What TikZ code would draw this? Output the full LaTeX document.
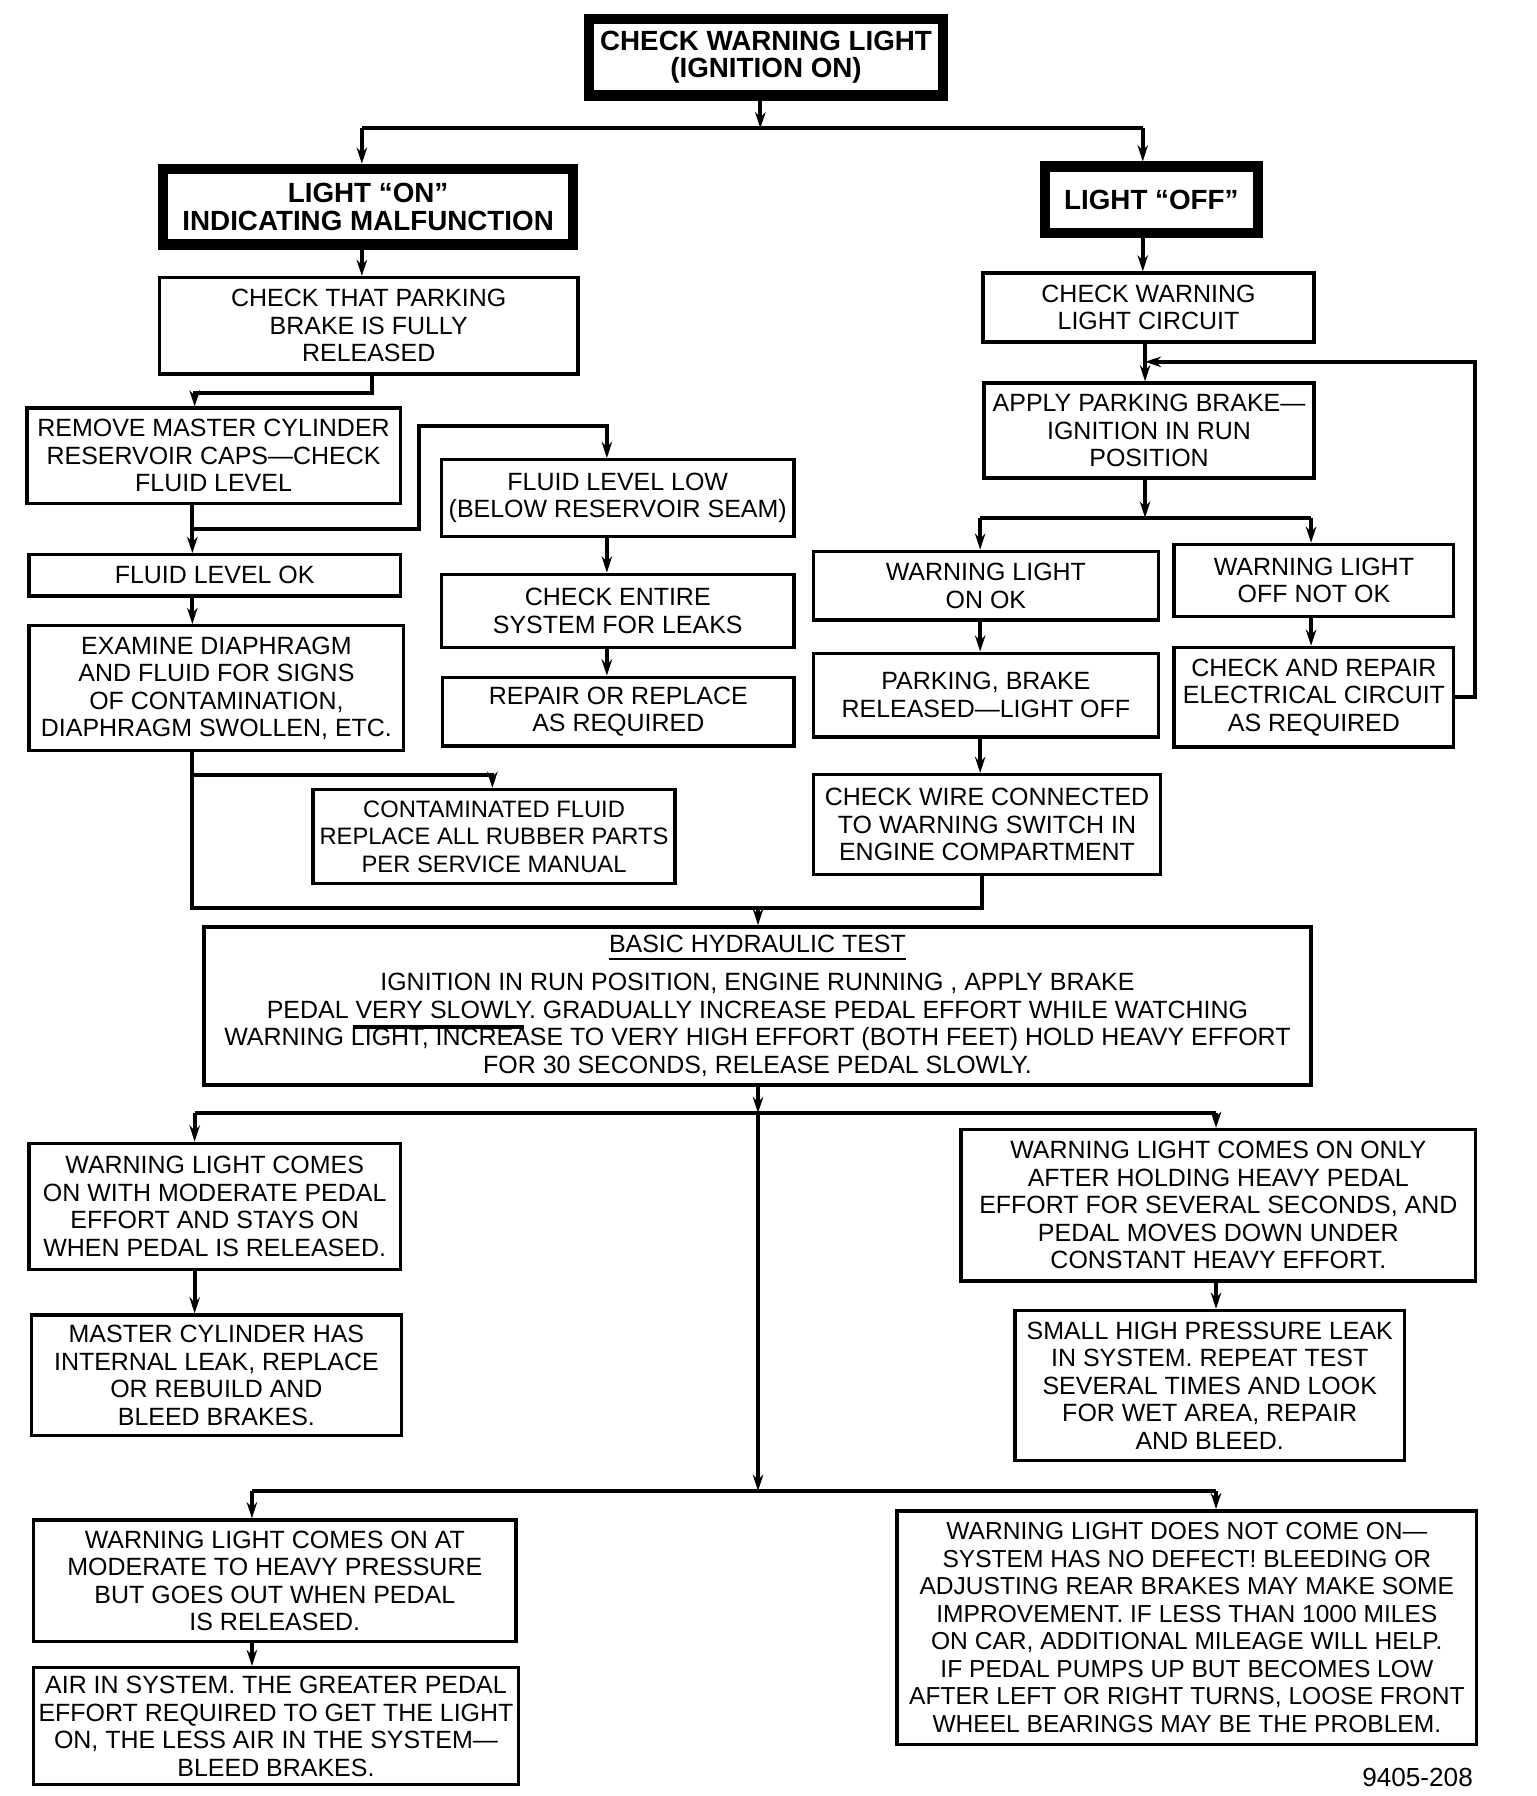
\documentclass[tikz,border=0pt]{standalone}
\usepackage{fontspec}
\setmainfont{Liberation Sans}
\usetikzlibrary{arrows.meta}
\newcommand{\flowfont}{\fontsize{6.2}{6.83}\selectfont}
\newcommand{\headfont}{\fontsize{6.9}{6.83}\selectfont\bfseries}
\begin{document}
\begin{tikzpicture}[x=0.01cm,y=-0.01cm]
  \tikzstyle{box} = [draw=black, line width=0.85pt, inner sep=0pt, align=center, font=\flowfont]
  \tikzstyle{hbox} = [draw=black, line width=2.6pt, inner sep=0pt, align=center, font=\headfont]
  \tikzstyle{link} = [line width=1pt]
  \tikzstyle{linkarr} = [line width=1pt, -{Stealth[length=4pt,width=2.6pt]}]
  \useasboundingbox (0,0) rectangle (1341.5,1568.5);

  % headers
  \node[hbox, minimum width=3.09cm, minimum height=0.67cm] (top) at (669,50) {CHECK WARNING LIGHT\\(IGNITION ON)};
  \node[hbox, minimum width=3.58cm, minimum height=0.66cm] (lon) at (321.5,180.5) {LIGHT “ON”\\INDICATING MALFUNCTION};
  \node[hbox, minimum width=1.86cm, minimum height=0.58cm] (loff) at (1005.5,174.5) {LIGHT “OFF”};

  % left branch
  \node[box, minimum width=3.65cm, minimum height=0.84cm] (park) at (322,284.5) {CHECK THAT PARKING\\BRAKE IS FULLY\\RELEASED};
  \node[box, minimum width=3.26cm, minimum height=0.83cm] (rmv) at (186.5,398) {REMOVE MASTER CYLINDER\\RESERVOIR CAPS—CHECK\\FLUID LEVEL};
  \node[box, minimum width=3.08cm, minimum height=0.67cm] (low) at (539.5,435) {FLUID LEVEL LOW\\(BELOW RESERVOIR SEAM)};
  \node[box, minimum width=3.24cm, minimum height=0.36cm] (fok) at (187.5,502.5) {FLUID LEVEL OK};
  \node[box, minimum width=3.27cm, minimum height=1.09cm] (exam) at (189,601) {EXAMINE DIAPHRAGM\\AND FLUID FOR SIGNS\\OF CONTAMINATION,\\DIAPHRAGM SWOLLEN, ETC.};
  \node[box, minimum width=3.08cm, minimum height=0.64cm] (leak) at (539.5,533.5) {CHECK ENTIRE\\SYSTEM FOR LEAKS};
  \node[box, minimum width=3.07cm, minimum height=0.60cm] (repl) at (540,621.5) {REPAIR OR REPLACE\\AS REQUIRED};
  \node[box, minimum width=3.16cm, minimum height=0.82cm, font=\fontsize{5.9}{6.83}\selectfont] (cont) at (431.5,730.5) {CONTAMINATED FLUID\\REPLACE ALL RUBBER PARTS\\PER SERVICE MANUAL};

  % right branch
  \node[box, minimum width=2.89cm, minimum height=0.60cm] (circ) at (1003,268.5) {CHECK WARNING\\LIGHT CIRCUIT};
  \node[box, minimum width=2.88cm, minimum height=0.83cm] (apply) at (1003.5,376) {APPLY PARKING BRAKE—\\IGNITION IN RUN\\POSITION};
  \node[box, minimum width=3.01cm, minimum height=0.60cm] (onok) at (861,511.5) {WARNING LIGHT\\ON OK};
  \node[box, minimum width=2.44cm, minimum height=0.63cm] (offnok) at (1147.5,507) {WARNING LIGHT\\OFF NOT OK};
  \node[box, minimum width=3.01cm, minimum height=0.73cm] (prel) at (861,607) {PARKING, BRAKE\\RELEASED—LIGHT OFF};
  \node[box, minimum width=2.44cm, minimum height=0.87cm] (erep) at (1147.5,609) {CHECK AND REPAIR\\ELECTRICAL CIRCUIT\\AS REQUIRED};
  \node[box, minimum width=3.03cm, minimum height=0.87cm] (wire) at (862,720) {CHECK WIRE CONNECTED\\TO WARNING SWITCH IN\\ENGINE COMPARTMENT};

  % hydraulic test
  \node[box, minimum width=9.66cm, minimum height=1.38cm] (hyd) at (661.5,878.5) {\underline{BASIC HYDRAULIC TEST}\\[2.6pt]IGNITION IN RUN POSITION, ENGINE RUNNING , APPLY BRAKE\\PEDAL VERY SLOWLY. GRADUALLY INCREASE PEDAL EFFORT WHILE WATCHING\\WARNING LIGHT, INCREASE TO VERY HIGH EFFORT (BOTH FEET) HOLD HEAVY EFFORT\\FOR 30 SECONDS, RELEASE PEDAL SLOWLY.};
  \draw[link] (308,897) -- (458,897);

  % results
  \node[box, minimum width=3.24cm, minimum height=1.10cm] (stay) at (187.5,1053.5) {WARNING LIGHT COMES\\ON WITH MODERATE PEDAL\\EFFORT AND STAYS ON\\WHEN PEDAL IS RELEASED.};
  \node[box, minimum width=3.23cm, minimum height=1.05cm] (mcyl) at (189,1201) {MASTER CYLINDER HAS\\INTERNAL LEAK, REPLACE\\OR REBUILD AND\\BLEED BRAKES.};
  \node[box, minimum width=4.49cm, minimum height=1.32cm] (heavy) at (1064,1052.5) {WARNING LIGHT COMES ON ONLY\\AFTER HOLDING HEAVY PEDAL\\EFFORT FOR SEVERAL SECONDS, AND\\PEDAL MOVES DOWN UNDER\\CONSTANT HEAVY EFFORT.};
  \node[box, minimum width=3.40cm, minimum height=1.31cm] (small) at (1056.5,1210) {SMALL HIGH PRESSURE LEAK\\IN SYSTEM. REPEAT TEST\\SEVERAL TIMES AND LOOK\\FOR WET AREA, REPAIR\\AND BLEED.};
  \node[box, minimum width=4.21cm, minimum height=1.06cm] (mod) at (240,1380.5) {WARNING LIGHT COMES ON AT\\MODERATE TO HEAVY PRESSURE\\BUT GOES OUT WHEN PEDAL\\IS RELEASED.};
  \node[box, minimum width=4.23cm, minimum height=1.02cm] (air) at (241,1507.5) {AIR IN SYSTEM. THE GREATER PEDAL\\EFFORT REQUIRED TO GET THE LIGHT\\ON, THE LESS AIR IN THE SYSTEM—\\BLEED BRAKES.};
  \node[box, minimum width=5.06cm, minimum height=2.04cm, font=\fontsize{6.1}{6.83}\selectfont] (nodef) at (1036.5,1421.5) {WARNING LIGHT DOES NOT COME ON—\\SYSTEM HAS NO DEFECT! BLEEDING OR\\ADJUSTING REAR BRAKES MAY MAKE SOME\\IMPROVEMENT. IF LESS THAN 1000 MILES\\ON CAR, ADDITIONAL MILEAGE WILL HELP.\\IF PEDAL PUMPS UP BUT BECOMES LOW\\AFTER LEFT OR RIGHT TURNS, LOOSE FRONT\\WHEEL BEARINGS MAY BE THE PROBLEM.};
  \node[font=\fontsize{6.5}{7}\selectfont, inner sep=0pt] (fig) at (1238,1552) {9405-208};

  % junction points
  \coordinate (j1) at (664,112);
  \coordinate (jl) at (316,112);
  \coordinate (jr) at (998,112);
  \coordinate (j2) at (325,343);
  \coordinate (j2b) at (170,343);
  \coordinate (j3) at (168,462);
  \coordinate (j4) at (366,372);
  \coordinate (j5) at (530,372);
  \coordinate (j6) at (168,677);
  \coordinate (j7) at (430,677);
  \coordinate (j8) at (168,793);
  \coordinate (j9) at (858,793);
  \coordinate (j10) at (662,793);
  \coordinate (k1) at (1000,316);
  \coordinate (k2) at (1288,316);
  \coordinate (k3) at (1000,452);
  \coordinate (k4) at (856,452);
  \coordinate (k5) at (1145,452);
  \coordinate (m1) at (662,972);
  \coordinate (m2) at (170,972);
  \coordinate (m3) at (1062,972);
  \coordinate (m4) at (662,1302);
  \coordinate (m5) at (220,1302);
  \coordinate (m6) at (1062,1302);

  % top split
  \draw[linkarr] (top.south -| j1) -- (j1);
  \draw[link] (jl) -- (jr);
  \draw[linkarr] (jl) -- (lon.north -| jl);
  \draw[linkarr] (jr) -- (loff.north -| jr);

  % left connectors
  \draw[linkarr] (lon.south -| jl) -- (park.north -| jl);
  \draw[linkarr] (park.south -| j2) -- (j2) -- (j2b) -- (rmv.north -| j2b);
  \draw[linkarr] (rmv.south -| j3) -- (fok.north -| j3);
  \draw[linkarr] (j3) -| (j4) -- (j5) -- (low.north -| j5);
  \draw[linkarr] (low.south -| j5) -- (leak.north -| j5);
  \draw[linkarr] (leak.south -| j5) -- (repl.north -| j5);
  \draw[linkarr] (fok.south -| j3) -- (exam.north -| j3);
  \draw[linkarr] (j6) -- (j7) -- (cont.north -| j7);
  \draw[link] (exam.south -| j6) -- (j8) -- (j9) -- (wire.south -| j9);
  \draw[linkarr] (j10) -- (hyd.north -| j10);

  % right connectors
  \draw[linkarr] (loff.south -| jr) -- (circ.north -| jr);
  \draw[linkarr] (circ.south -| k1) -- (apply.north -| k1);
  \draw[linkarr] (erep.east) -| (k2) -- (k1);
  \draw[linkarr] (apply.south -| k3) -- (k3);
  \draw[link] (k4) -- (k5);
  \draw[linkarr] (k4) -- (onok.north -| k4);
  \draw[linkarr] (k5) -- (offnok.north -| k5);
  \draw[linkarr] (onok.south -| k4) -- (prel.north -| k4);
  \draw[linkarr] (prel.south -| k4) -- (wire.north -| k4);
  \draw[linkarr] (offnok.south -| k5) -- (erep.north -| k5);

  % hydraulic test results
  \draw[linkarr] (hyd.south -| m1) -- (m1);
  \draw[link] (m2) -- (m3);
  \draw[linkarr] (m2) -- (stay.north -| m2);
  \draw[linkarr] (m3) -- (heavy.north -| m3);
  \draw[linkarr] (stay.south -| m2) -- (mcyl.north -| m2);
  \draw[linkarr] (heavy.south -| m3) -- (small.north -| m3);
  \draw[linkarr] (m1) -- (m4);
  \draw[link] (m5) -- (m6);
  \draw[linkarr] (m5) -- (mod.north -| m5);
  \draw[linkarr] (m6) -- (nodef.north -| m6);
  \draw[linkarr] (mod.south -| m5) -- (air.north -| m5);
\end{tikzpicture}
\end{document}
